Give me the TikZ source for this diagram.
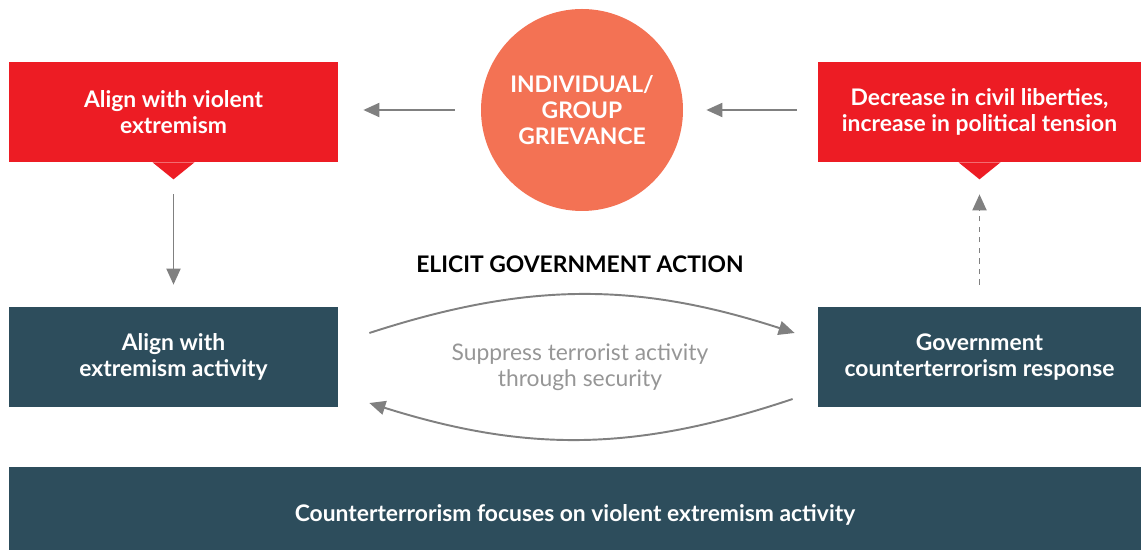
\documentclass[tikz,border=0pt]{standalone}
\usepackage{fontspec}
\setmainfont{Lato}
\usepackage{tikz}
\usetikzlibrary{shapes,arrows.meta,positioning,calc}
\usepackage{xcolor}
\definecolor{alertred}{RGB}{237,28,36}
\definecolor{coral}{RGB}{243,114,84}
\definecolor{slateteal}{RGB}{45,77,92}
\definecolor{arrowgrey}{RGB}{128,128,128}
\definecolor{labelgrey}{RGB}{150,150,150}
\tikzset{
    ebox/.style={rectangle, fill=#1, minimum height=2cm,
                 minimum width=6.58cm, align=center, text=white,
                 font=\fontsize{13}{15}\selectfont\bfseries},
    grievance/.style={circle, fill=#1, minimum size=4.04cm, align=center,
                      text=white, font=\fontsize{13}{15}\selectfont\bfseries},
    pointer/.style={fill=#1},
}

\begin{document}
\begin{tikzpicture}[
    arr/.style={-{Triangle[length=3.2mm,width=2.8mm]}, line width=1.1pt, arrowgrey},
    dasharr/.style={-{Triangle[length=3.2mm,width=2.8mm]}, line width=1.1pt,
                    arrowgrey, dash pattern=on 3pt off 3pt}
]
    \useasboundingbox (0,0) rectangle (22.82,11);
    % top row
    \node[ebox=alertred] (violent) at (3.47,8.76) {Align with violent\\extremism};
    \node[grievance=coral] (grief) at (11.64,8.8) {INDIVIDUAL/\\GROUP\\GRIEVANCE};
    \node[ebox=alertred, minimum width=6.46cm] (liberty) at (19.59,8.76)
        {Decrease in civil liberties,\\increase in political tension};
    \fill[pointer=alertred] ($(violent.south)+(-0.42,0)$) -- ($(violent.south)+(0.42,0)$)
        -- ($(violent.south)+(0,-0.34)$) -- cycle;
    \fill[pointer=alertred] ($(liberty.south)+(-0.42,0)$) -- ($(liberty.south)+(0.42,0)$)
        -- ($(liberty.south)+(0,-0.34)$) -- cycle;
    % middle row
    \node[ebox=slateteal] (activity) at (3.47,3.86) {Align with\\extremism activity};
    \node[ebox=slateteal, minimum width=6.46cm] (response) at (19.59,3.86)
        {Government\\counterterrorism response};
    \node[font=\fontsize{13}{15}\selectfont\bfseries] (elicit) at (11.6,5.72)
        {ELICIT GOVERNMENT ACTION};
    \node[text=labelgrey, align=center, font=\fontsize{13}{15}\selectfont] (suppress)
        at (11.6,3.66) {Suppress terrorist activity\\through security};
    % bottom bar (runs off the lower page edge)
    \node[ebox=slateteal, minimum width=22.64cm, minimum height=1.92cm] (focus)
        at (11.5,0.7) {Counterterrorism focuses on violent extremism activity};
    % connectors
    \draw[arr, shorten <=0.52cm, shorten >=0.5cm] (grief.west) -- (violent.east |- grief.west);
    \draw[arr, shorten <=0.42cm, shorten >=0.46cm] (liberty.west |- grief.east) -- (grief.east);
    \draw[arr, shorten <=0.64cm, shorten >=0.44cm] (violent.south) -- (activity.north);
    \draw[dasharr, shorten <=0.44cm, shorten >=0.64cm] (response.north) -- (liberty.south);
    \coordinate (topl) at ($(activity.east)+(0.62,0.48)$);
    \coordinate (topr) at ($(response.west)+(-0.46,0.48)$);
    \coordinate (botr) at ($(response.west)+(-0.5,-0.84)$);
    \coordinate (botl) at ($(activity.east)+(0.62,-0.92)$);
    \draw[arr] (topl) to[bend left=18] (topr);
    \draw[arr] (botr) to[bend left=18] (botl);
\end{tikzpicture}
\end{document}
